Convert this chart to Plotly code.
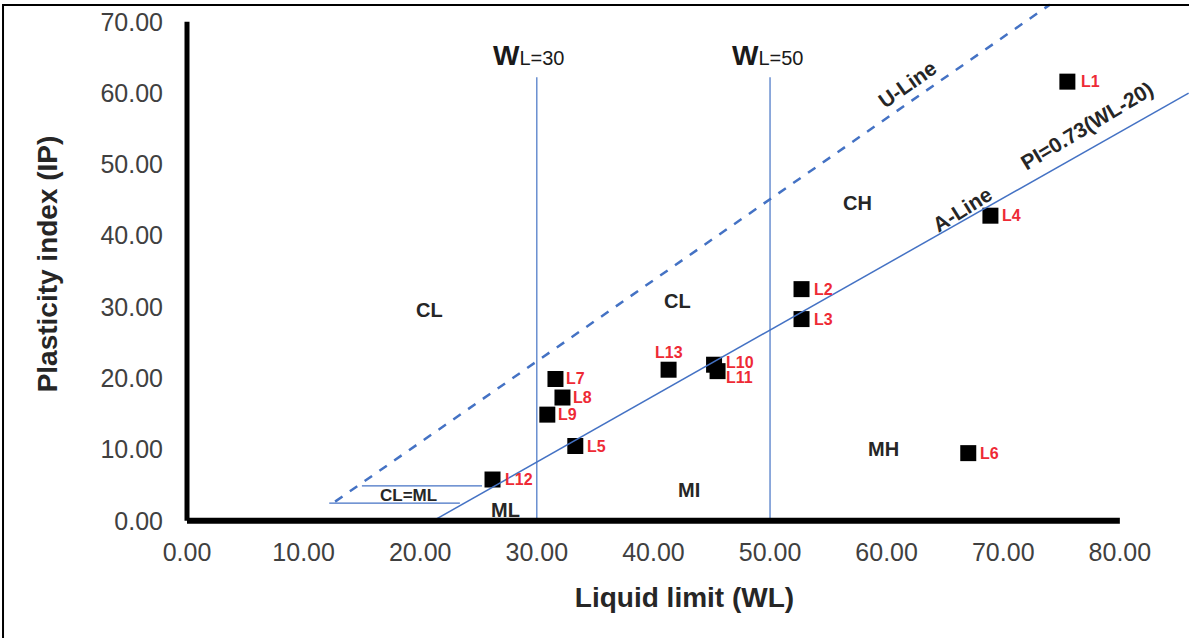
import plotly.graph_objects as go

# Sample results: liquid limit (WL) and plasticity index (IP)
samples = ["L1", "L2", "L3", "L4", "L5", "L6", "L7", "L8", "L9", "L10", "L11", "L12", "L13"]
liquid_limit = [75.5, 52.7, 52.7, 68.9, 33.3, 67.0, 31.6, 32.2, 30.9, 45.2, 45.5, 26.2, 41.3]
plasticity_index = [61.6, 32.5, 28.3, 42.8, 10.5, 9.5, 19.9, 17.3, 14.9, 21.9, 21.0, 5.8, 21.2]
# Label offsets in pixels (right of / above each marker)
label_dx = [12, 10, 10, 10, 10, 10, 9, 9, 9, 10, 6, 10, 0]
label_dy = [0, 0, 0, 0, 0, 0, 0, 0, 0, 2, -6, 0, 17]

# Chart guide lines (end points in WL / IP units)
u_line_wl = [12.7, 74.0]
u_line_ip = [2.7, 72.4]
a_line_wl = [21.1, 85.9]
a_line_ip = [0.0, 60.0]
wl_limits = [30, 50]
wl_label_x = [29.3, 49.8]
wl_limit_top = 62.2
clml_upper = dict(y=4.9, x0=15.0, x1=25.3)
clml_lower = dict(y=2.5, x0=12.2, x1=23.4)

x_ticks = [0, 10, 20, 30, 40, 50, 60, 70, 80]
y_ticks = [0, 10, 20, 30, 40, 50, 60, 70]

# Zone labels: (text, WL, IP, size)
zones = [
    ("CL", 20.8, 29.6, 20),
    ("CL", 42.1, 30.9, 20),
    ("CH", 57.5, 44.6, 20),
    ("MH", 59.7, 10.1, 20),
    ("MI", 43.05, 4.35, 20),
    ("ML", 27.3, 1.5, 20),
    ("CL=ML", 19.0, 3.5, 17),
]

BLUE = "#4472C4"
RED = "#EE2A35"
DARK = "#262626"
FONT = "Liberation Sans, Arial, sans-serif"

fig = go.Figure()

fig.add_trace(go.Scatter(
    x=liquid_limit, y=plasticity_index, mode="markers",
    marker=dict(symbol="square", size=16, color="black"),
    cliponaxis=False, showlegend=False, hoverinfo="skip",
))

shapes = []
# U-line (dashed) and A-line
shapes.append(dict(type="line", xref="x", yref="y", x0=u_line_wl[0], y0=u_line_ip[0],
                   x1=u_line_wl[1], y1=u_line_ip[1], line=dict(color=BLUE, width=2.5, dash="dash")))
shapes.append(dict(type="line", xref="x", yref="y", x0=a_line_wl[0], y0=a_line_ip[0],
                   x1=a_line_wl[1], y1=a_line_ip[1], line=dict(color=BLUE, width=1.5)))
# Vertical WL limits
for wl in wl_limits:
    shapes.append(dict(type="line", xref="x", yref="y", x0=wl, y0=0, x1=wl, y1=wl_limit_top,
                       line=dict(color=BLUE, width=1.2)))
# CL-ML band
for band in (clml_upper, clml_lower):
    shapes.append(dict(type="line", xref="x", yref="y", x0=band["x0"], y0=band["y"],
                       x1=band["x1"], y1=band["y"], line=dict(color=BLUE, width=1.2)))
# Heavy axis lines
shapes.append(dict(type="line", xref="x", yref="y", x0=0, y0=0, x1=80, y1=0,
                   line=dict(color="black", width=6)))
shapes.append(dict(type="line", xref="x", yref="y", x0=0, y0=0, x1=0, y1=70,
                   line=dict(color="black", width=5)))
# Outer frame
shapes.append(dict(type="rect", xref="paper", yref="paper", x0=-0.1754, y0=-0.22,
                   x1=1.01, y1=0.9905, line=dict(color="black", width=2), fillcolor="rgba(0,0,0,0)"))

annotations = []
# Sample labels
for name, sx, sy, dx, dy in zip(samples, liquid_limit, plasticity_index, label_dx, label_dy):
    centered = dx == 0
    annotations.append(dict(x=sx, y=sy, xref="x", yref="y", text=f"<b>{name}</b>", showarrow=False,
                            xanchor="center" if centered else "left", xshift=dx, yshift=dy,
                            font=dict(size=16, color=RED, family=FONT)))
for txt, zx, zy, size in zones:
    annotations.append(dict(x=zx, y=zy, xref="x", yref="y", text=f"<b>{txt}</b>", showarrow=False,
                            font=dict(size=size, color=DARK, family=FONT)))
for wl, lx in zip(wl_limits, wl_label_x):
    annotations.append(dict(x=lx, y=65.3, xref="x", yref="y", showarrow=False,
                            text=f"<b>W</b><span style='font-size:20px'>L={wl}</span>",
                            font=dict(size=28, color="#1a1a1a", family=FONT)))
annotations.append(dict(x=61.75, y=61.15, xref="x", yref="y", text="<b>U-Line</b>", showarrow=False,
                        textangle=-35, font=dict(size=21, color=DARK, family=FONT)))
annotations.append(dict(x=66.47, y=43.6, xref="x", yref="y", text="<b>A-Line</b>", showarrow=False,
                        textangle=-32, font=dict(size=21, color=DARK, family=FONT)))
annotations.append(dict(x=77.2, y=55.4, xref="x", yref="y", text="<b>PI=0.73(WL-20)</b>", showarrow=False,
                        textangle=-31, font=dict(size=21, color=DARK, family=FONT)))

fig.update_layout(
    width=1189, height=638,
    margin=dict(l=180, r=0, t=0, b=110),
    paper_bgcolor="white", plot_bgcolor="white",
    shapes=shapes, annotations=annotations,
    font=dict(family=FONT),
    xaxis=dict(
        range=[-0.6, 85.93], tickvals=x_ticks, ticktext=[f"{v:.2f}" for v in x_ticks],
        showgrid=False, zeroline=False, showline=False, ticks="",
        tickfont=dict(size=25, color="#404040"), ticklabelstandoff=7,
        title=dict(text="<b>Liquid limit (WL)</b>", font=dict(size=28, color=DARK), standoff=22),
    ),
    yaxis=dict(
        range=[-1.0, 73.05], tickvals=y_ticks, ticktext=[f"{v:.2f}" for v in y_ticks],
        showgrid=False, zeroline=False, showline=False, ticks="",
        tickfont=dict(size=25, color="#404040"), ticklabelstandoff=16,
        title=dict(text="<b>Plasticity index (IP)</b>", font=dict(size=28, color=DARK), standoff=34),
    ),
)

fig.write_html("out.html")
